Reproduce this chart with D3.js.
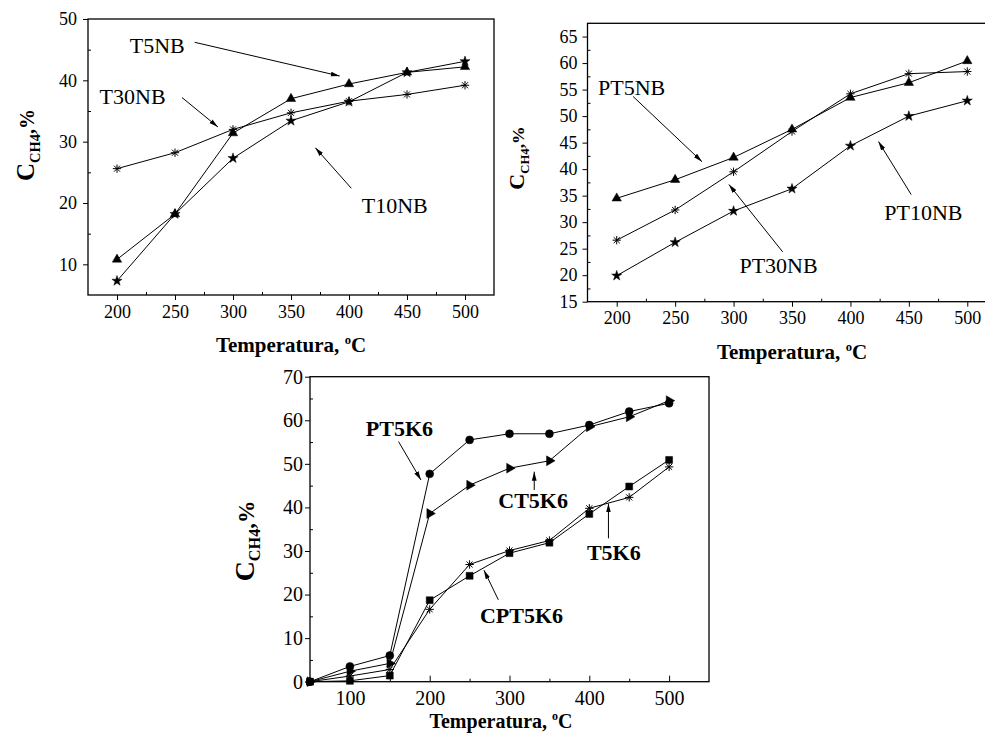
<!DOCTYPE html>
<html>
<head>
<meta charset="utf-8">
<script src="https://cdn.jsdelivr.net/npm/d3@7"></script>
<style>
  body { margin: 0; background: #fff; }
  svg { display: block; }
  text { font-family: "Liberation Serif", "Times New Roman", serif; fill: #000; }
</style>
</head>
<body>
<svg id="chart" width="985" height="738"></svg>
<script>
// ---- data ----
var temps = [200, 250, 300, 350, 400, 450, 500];
var t5nb  = [10.8, 18.2, 31.4, 37.0, 39.4, 41.3, 42.2];
var t10nb = [7.3, 18.2, 27.3, 33.4, 36.5, 41.3, 43.1];
var t30nb = [25.6, 28.2, 32.0, 34.7, 36.6, 37.7, 39.2];

var pt5nb  = [34.5, 38.0, 42.2, 47.5, 53.5, 56.3, 60.4];
var pt10nb = [19.9, 26.2, 32.1, 36.3, 44.4, 50.0, 52.9];
var pt30nb = [26.6, 32.3, 39.5, 47.1, 54.2, 58.0, 58.4];

var tempsK6 = [50, 100, 150, 200, 250, 300, 350, 400, 450, 500];
var pt5k6  = [0, 3.5, 6.0, 47.7, 55.5, 56.9, 56.9, 58.9, 62.0, 63.9];
var ct5k6  = [0, 2.4, 4.2, 38.6, 45.1, 49.0, 50.7, 58.5, 60.8, 64.5];
var t5k6   = [0, 1.3, 2.8, 16.6, 26.9, 30.1, 32.4, 39.8, 42.3, 49.3];
var cpt5k6 = [0, 0.2, 1.4, 18.7, 24.3, 29.5, 31.9, 38.5, 44.8, 50.9];

// annotation labels: [text, textX, textY, arrowFromX, arrowFromY, arrowToX, arrowToY] in data units
var notesNB = [
  ["T5NB", 211, 44.5, 267, 46.2, 392, 40.7],
  ["T30NB", 185, 36.1, 256, 37.2, 287, 32.4],
  ["T10NB", 411, 18.3, 402, 22.4, 371, 29.0]
];
var notesPNB = [
  ["PT5NB", 184, 54.0, 214, 53.7, 273, 41.4],
  ["PT10NB", 429, 30.4, 452, 35.2, 424, 45.2],
  ["PT30NB", 305, 20.4, 342, 24.4, 296, 37.1]
];
var notesK6 = [
  ["PT5K6", 120, 56.4, 161, 55.1, 189, 46.3],
  ["CT5K6", 286, 39.8, 331, 44.0, 331, 48.2],
  ["T5K6", 397, 27.9, 424, 32.9, 424, 40.9],
  ["CPT5K6", 263, 13.5, 286, 18.8, 268, 25.6]
];

var serif = '"Liberation Serif", "Times New Roman", serif';
var svg = d3.select("#chart");

svg.append("defs").append("marker")
  .attr("id", "arrow")
  .attr("markerUnits", "userSpaceOnUse")
  .attr("markerWidth", 10).attr("markerHeight", 6)
  .attr("refX", 9).attr("refY", 3)
  .attr("orient", "auto")
  .append("path")
  .attr("d", "M0,0.6 L9,3 L0,5.4 Z")
  .attr("fill", "#000");

// asterisk marker (plus + cross)
var asterisk = {
  draw: function (ctx, size) {
    var r = Math.sqrt(size) / 2, q = r * 0.72;
    ctx.moveTo(-r, 0); ctx.lineTo(r, 0);
    ctx.moveTo(0, -r); ctx.lineTo(0, r);
    ctx.moveTo(-q, -q); ctx.lineTo(q, q);
    ctx.moveTo(-q, q); ctx.lineTo(q, -q);
  }
};

function drawPanel(p) {
  var x = d3.scaleLinear().domain(p.xDomain).range(p.xRange);
  var y = d3.scaleLinear().domain(p.yDomain).range(p.yRange);
  var g = svg.append("g");

  // axes
  var bottom = p.yRange[0], left = p.xRange[0];
  var xa = g.append("g").attr("transform", "translate(0," + bottom + ")")
    .call(d3.axisBottom(x).tickValues(p.xMajor).tickSize(p.xTick).tickPadding(p.xPad).tickFormat(d3.format("d")));
  xa.selectAll("text").style("font-size", p.tickFont + "px");
  g.append("g").attr("transform", "translate(0," + bottom + ")")
    .call(d3.axisBottom(x).tickValues(p.xMinor).tickSize(-3).tickFormat(""));
  var ya = g.append("g").attr("transform", "translate(" + left + ",0)")
    .call(d3.axisLeft(y).tickValues(p.yMajor).tickSize(5).tickPadding(p.yPad).tickFormat(d3.format("d")));
  ya.selectAll("text").style("font-size", p.tickFont + "px");
  g.append("g").attr("transform", "translate(" + left + ",0)")
    .call(d3.axisLeft(y).tickValues(p.yMinor).tickSize(-3).tickFormat(""));
  g.selectAll(".domain").remove();
  g.selectAll(".tick line").attr("stroke", "#000").attr("stroke-width", 1);

  g.append("rect")
    .attr("x", p.xRange[0]).attr("y", p.yRange[1])
    .attr("width", p.xRange[1] - p.xRange[0]).attr("height", p.yRange[0] - p.yRange[1])
    .attr("fill", "none").attr("stroke", "#000").attr("stroke-width", 1.3);

  // series
  var line = d3.line().x(function (d) { return x(d[0]); }).y(function (d) { return y(d[1]); });
  p.series.forEach(function (s) {
    var pts = p.xs.map(function (t, i) { return [t, s.values[i]]; });
    g.append("path").datum(pts)
      .attr("d", line).attr("fill", "none").attr("stroke", "#000").attr("stroke-width", 1);
    var sym = d3.symbol().type(s.type).size(s.size);
    g.selectAll(null).data(pts).enter().append("path")
      .attr("d", sym)
      .attr("transform", function (d) { return "translate(" + x(d[0]) + "," + y(d[1]) + ")rotate(" + (s.rotate || 0) + ")"; })
      .attr("fill", s.type === asterisk ? "none" : "#000")
      .attr("stroke", "#000").attr("stroke-width", s.type === asterisk ? 1 : 0.5);
  });

  // annotations
  p.notes.forEach(function (n) {
    g.append("text").attr("x", x(n[1])).attr("y", y(n[2]))
      .style("font-size", p.noteFont + "px").style("font-weight", p.noteWeight)
      .text(n[0]);
    g.append("line")
      .attr("x1", x(n[3])).attr("y1", y(n[4])).attr("x2", x(n[5])).attr("y2", y(n[6]))
      .attr("stroke", "#000").attr("stroke-width", 1).attr("marker-end", "url(#arrow)");
  });

  // axis titles
  var xt = g.append("text")
    .attr("x", p.xTitle[0]).attr("y", p.xTitle[1])
    .attr("text-anchor", "middle")
    .style("font-size", p.titleFont + "px").style("font-weight", "bold");
  xt.append("tspan").text("Temperatura, ");
  xt.append("tspan").attr("dy", -p.titleFont * 0.4).style("font-size", (p.titleFont * 0.6) + "px").text("o");
  xt.append("tspan").attr("dy", p.titleFont * 0.4).text("C");

  var yt = g.append("text")
    .attr("transform", "translate(" + p.yTitle[0] + "," + p.yTitle[1] + ")rotate(-90)")
    .attr("text-anchor", "middle")
    .style("font-weight", "bold");
  yt.append("tspan").style("font-size", p.yFont + "px").text("C");
  yt.append("tspan").attr("dy", p.yFont * 0.22).style("font-size", (p.yFont * 0.58) + "px").text("CH4");
  yt.append("tspan").attr("dy", -p.yFont * 0.22).style("font-size", (p.yFont * 0.8) + "px").text(",%");
}

drawPanel({
  xs: temps,
  xDomain: [175, 525], xRange: [88, 494],
  yDomain: [5, 50], yRange: [295, 19],
  xMajor: [200, 250, 300, 350, 400, 450, 500], xMinor: [225, 275, 325, 375, 425, 475],
  yMajor: [10, 20, 30, 40, 50], yMinor: [15, 25, 35, 45],
  xTick: 5, xPad: 5, yPad: 6, tickFont: 18,
  series: [
    { values: t5nb, type: d3.symbolTriangle, size: 38 },
    { values: t30nb, type: asterisk, size: 70 },
    { values: t10nb, type: d3.symbolStar, size: 32 }
  ],
  notes: notesNB, noteFont: 22, noteWeight: "normal",
  xTitle: [291, 352], titleFont: 21,
  yTitle: [34, 145], yFont: 25
});

drawPanel({
  xs: temps,
  xDomain: [175, 525], xRange: [587.5, 996.5],
  yDomain: [15, 67.5], yRange: [301.7, 23.3],
  xMajor: [200, 250, 300, 350, 400, 450, 500], xMinor: [225, 275, 325, 375, 425, 475],
  yMajor: [15, 20, 25, 30, 35, 40, 45, 50, 55, 60, 65], yMinor: [17.5, 22.5, 27.5, 32.5, 37.5, 42.5, 47.5, 52.5, 57.5, 62.5],
  xTick: 5, xPad: 5, yPad: 5, tickFont: 18,
  series: [
    { values: pt5nb, type: d3.symbolTriangle, size: 38 },
    { values: pt30nb, type: asterisk, size: 70 },
    { values: pt10nb, type: d3.symbolStar, size: 32 }
  ],
  notes: notesPNB, noteFont: 22, noteWeight: "normal",
  xTitle: [792, 359], titleFont: 21,
  yTitle: [524, 158], yFont: 22
});

drawPanel({
  xs: tempsK6,
  xDomain: [50, 550], xRange: [310, 709],
  yDomain: [0, 70], yRange: [681.7, 376.7],
  xMajor: [100, 200, 300, 400, 500], xMinor: [150, 250, 350, 450],
  yMajor: [0, 10, 20, 30, 40, 50, 60, 70], yMinor: [5, 15, 25, 35, 45, 55, 65],
  xTick: -6, xPad: 9, yPad: 2, tickFont: 20,
  series: [
    { values: pt5k6, type: d3.symbolCircle, size: 50 },
    { values: ct5k6, type: d3.symbolTriangle, size: 42, rotate: 90 },
    { values: t5k6, type: asterisk, size: 70 },
    { values: cpt5k6, type: d3.symbolSquare, size: 48 }
  ],
  notes: notesK6, noteFont: 22, noteWeight: "bold",
  xTitle: [501, 728], titleFont: 20,
  yTitle: [254, 541], yFont: 28
});

svg.selectAll("text").style("font-family", serif);
</script>
</body>
</html>
